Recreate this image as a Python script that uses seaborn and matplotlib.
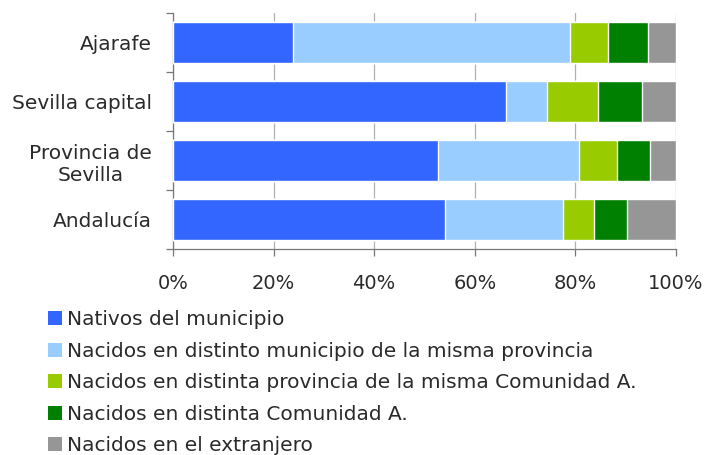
import numpy as np
import matplotlib
matplotlib.use("Agg")
import matplotlib.pyplot as plt
from matplotlib.patches import Patch
import seaborn as sns

sns.set_theme(style="white")
plt.rcParams['font.family'] = ['DejaVu Sans']

# --- Data (percent of population by birthplace) ---
categories = ["Ajarafe", "Sevilla capital", "Provincia de\nSevilla", "Andalucía"]
nativos = [23.8, 66.2, 52.7, 54.1]
mismo_prov = [55.2, 8.2, 28.1, 23.4]
otra_prov = [7.5, 10.2, 7.4, 6.3]
otra_ca = [7.9, 8.6, 6.7, 6.5]
extranjero = [5.6, 6.8, 5.1, 9.7]

series_labels = [
    "Nativos del municipio",
    "Nacidos en distinto municipio de la misma provincia",
    "Nacidos en distinta provincia de la misma Comunidad A.",
    "Nacidos en distinta Comunidad A.",
    "Nacidos en el extranjero",
]
colors = ["#3366FF", "#99CCFF", "#99CC00", "#008000", "#969696"]
x_ticks = [0, 20, 40, 60, 80, 100]

series = [nativos, mismo_prov, otra_prov, otra_ca, extranjero]
cum = np.cumsum(np.array(series), axis=0)

fig = plt.figure(figsize=(7.1, 4.55), dpi=100)
ax = fig.add_axes([0.2437, 0.4527, 0.952 - 0.2437, 0.9714 - 0.4527])

# stacked bars: draw cumulative totals from the back to the front
for i in range(len(series) - 1, -1, -1):
    sns.barplot(x=cum[i], y=categories, color=colors[i], saturation=1,
                width=0.69, orient="h", ax=ax, zorder=3)

ax.set_xlim(0, 100)
ax.set_ylim(3.5, -0.5)
ax.set_xticks(x_ticks)
ax.set_xticklabels([f"{t}%" for t in x_ticks], fontsize=14, color="#2a2a2a")
ax.xaxis.grid(True, color="#b0b0b0", linewidth=0.9, zorder=0)
ax.set_axisbelow(True)
ax.set_xlabel("")
ax.set_ylabel("")

ax.tick_params(axis="x", length=5, width=0.9, color="#777777", pad=13, direction="out", bottom=True)
ax.tick_params(axis="y", which="major", length=0, pad=15, labelsize=14.5, labelcolor="#2a2a2a")
ax.set_yticks(np.arange(-0.5, 4, 1), minor=True)
ax.tick_params(axis="y", which="minor", length=5, width=0.9, color="#777777", left=True)
for lbl in ax.get_yticklabels():
    lbl.set_multialignment("center")

for side in ["top", "right"]:
    ax.spines[side].set_visible(False)
for side in ["left", "bottom"]:
    ax.spines[side].set_color("#777777")
    ax.spines[side].set_linewidth(0.9)

handles = [Patch(facecolor=c, edgecolor="none") for c in colors]
fig.legend(handles, series_labels, loc="upper left", bbox_to_anchor=(0.0676, 0.3176),
           frameon=False, fontsize=14.5, handlelength=0.7, handleheight=0.7,
           handletextpad=0.25, labelspacing=0.62, borderpad=0, borderaxespad=0,
           labelcolor="#2a2a2a")

fig.savefig("out.png", dpi=100)
